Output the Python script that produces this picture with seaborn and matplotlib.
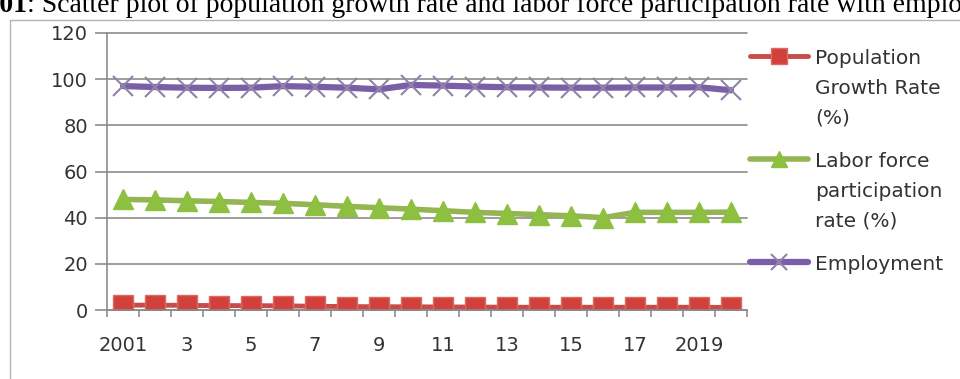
import matplotlib
matplotlib.use("Agg")
import matplotlib.pyplot as plt
import seaborn as sns
import numpy as np
from matplotlib.patches import Rectangle

# Yearly series, 2001-2020
years = list(range(2001, 2021))
tick_labels = ["2001", "3", "5", "7", "9", "11", "13", "15", "17", "2019"]
population_growth = [2.1, 2.1, 2.0, 1.9, 1.9, 1.8, 1.6, 1.5, 1.4, 1.4,
                     1.3, 1.3, 1.2, 1.2, 1.2, 1.2, 1.2, 1.2, 1.2, 1.1]
labor_force = [47.9, 47.7, 47.3, 47.0, 46.6, 46.2, 45.6, 44.9, 44.3, 43.7,
               43.0, 42.3, 41.8, 41.3, 40.8, 40.0, 42.3, 42.3, 42.3, 42.4]
employment = [97.0, 96.6, 96.3, 96.2, 96.3, 97.0, 96.7, 96.3, 95.6, 97.5,
              97.2, 96.8, 96.5, 96.4, 96.3, 96.3, 96.4, 96.4, 96.5, 95.2]
series_labels = ["Population\nGrowth Rate\n(%)",
                 "Labor force\nparticipation\nrate (%)",
                 "Employment"]

sns.set_theme(style="white")
plt.rcParams["font.family"] = ["DejaVu Sans"]

W, H = 960, 379
fig = plt.figure(figsize=(W / 100, H / 100), dpi=100)
ax = fig.add_axes([107 / W, 1 - 310 / H, 640 / W, 277 / H])

grid_color = "#8c8c8c"
text_color = "#333333"
pos = np.arange(len(years))

styles = [
    dict(color="#C84B48", linewidth=3.5, marker="s", markersize=14,
         markerfacecolor="#D2403C", markeredgecolor="#D96A66", markeredgewidth=1.0),
    dict(color="#93B552", linewidth=4.0, marker="^", markersize=14,
         markerfacecolor="#8DC041", markeredgecolor="#8DC041", markeredgewidth=1.0),
    dict(color="#7A5FA8", linewidth=4.5, marker="x", markersize=14,
         markeredgecolor="#8E84A8", markeredgewidth=1.5),
]
for label, values, style in zip(series_labels,
                                [population_growth, labor_force, employment],
                                styles):
    sns.lineplot(x=pos, y=values, ax=ax, label=label, **style)

# Category axis: labels on every other year, tick marks between categories
ax.set_xlim(-0.5, len(years) - 0.5)
ax.set_xticks(pos[::2])
ax.set_xticklabels(tick_labels)
ax.set_xticks(np.arange(-0.5, len(years), 1.0), minor=True)
ax.set_xlabel("")
ax.tick_params(axis="x", which="major", bottom=True, length=0, pad=19,
               labelsize=14, labelcolor=text_color)
ax.tick_params(axis="x", which="minor", bottom=True, length=5, width=1.2,
               color=grid_color, direction="out")

ax.set_ylim(0, 120)
ax.set_yticks(range(0, 121, 20))
ax.tick_params(axis="y", which="major", left=True, length=8.6, width=1.2,
               color=grid_color, pad=5, labelsize=14, labelcolor=text_color)
ax.yaxis.grid(True, color=grid_color, linewidth=1.2)
ax.xaxis.grid(False)
for gl in ax.get_ygridlines():
    gl.set_clip_on(False)

for side in ("top", "right"):
    ax.spines[side].set_visible(False)
for side in ("left", "bottom"):
    ax.spines[side].set_color(grid_color)
    ax.spines[side].set_linewidth(1.2)

handles, labels = ax.get_legend_handles_labels()
leg = ax.legend(handles, labels, loc="upper left",
                bbox_to_anchor=(750 / W, 1 - 49 / H), bbox_transform=fig.transFigure,
                frameon=False, prop={"size": 14.5}, handlelength=2.9,
                handletextpad=0.35, labelspacing=1.2, borderpad=0,
                borderaxespad=0, markerscale=0.85)
for t in leg.get_texts():
    t.set_linespacing(1.72)
    t.set_color(text_color)
for column in leg._legend_handle_box.get_children():
    for item in column.get_children():
        item.align = "top"

# Chart border
fig.add_artist(Rectangle((10 / W, -0.02), 1.0, (H - 20) / H + 0.02,
                         transform=fig.transFigure, fill=False,
                         edgecolor="#b4b4b4", linewidth=1.0))

# Caption
base_y = 1 - 12 / H
fig.text(27 / W, base_y, "Figure 01", fontfamily="Liberation Serif",
         fontweight="bold", fontsize=20, ha="right", va="baseline", color="black")
fig.text(27 / W, base_y,
         ": Scatter plot of population growth rate and labor force participation rate with employment",
         fontfamily="Liberation Serif", fontsize=20, ha="left", va="baseline",
         color="black")

fig.savefig("out.png", dpi=100)
